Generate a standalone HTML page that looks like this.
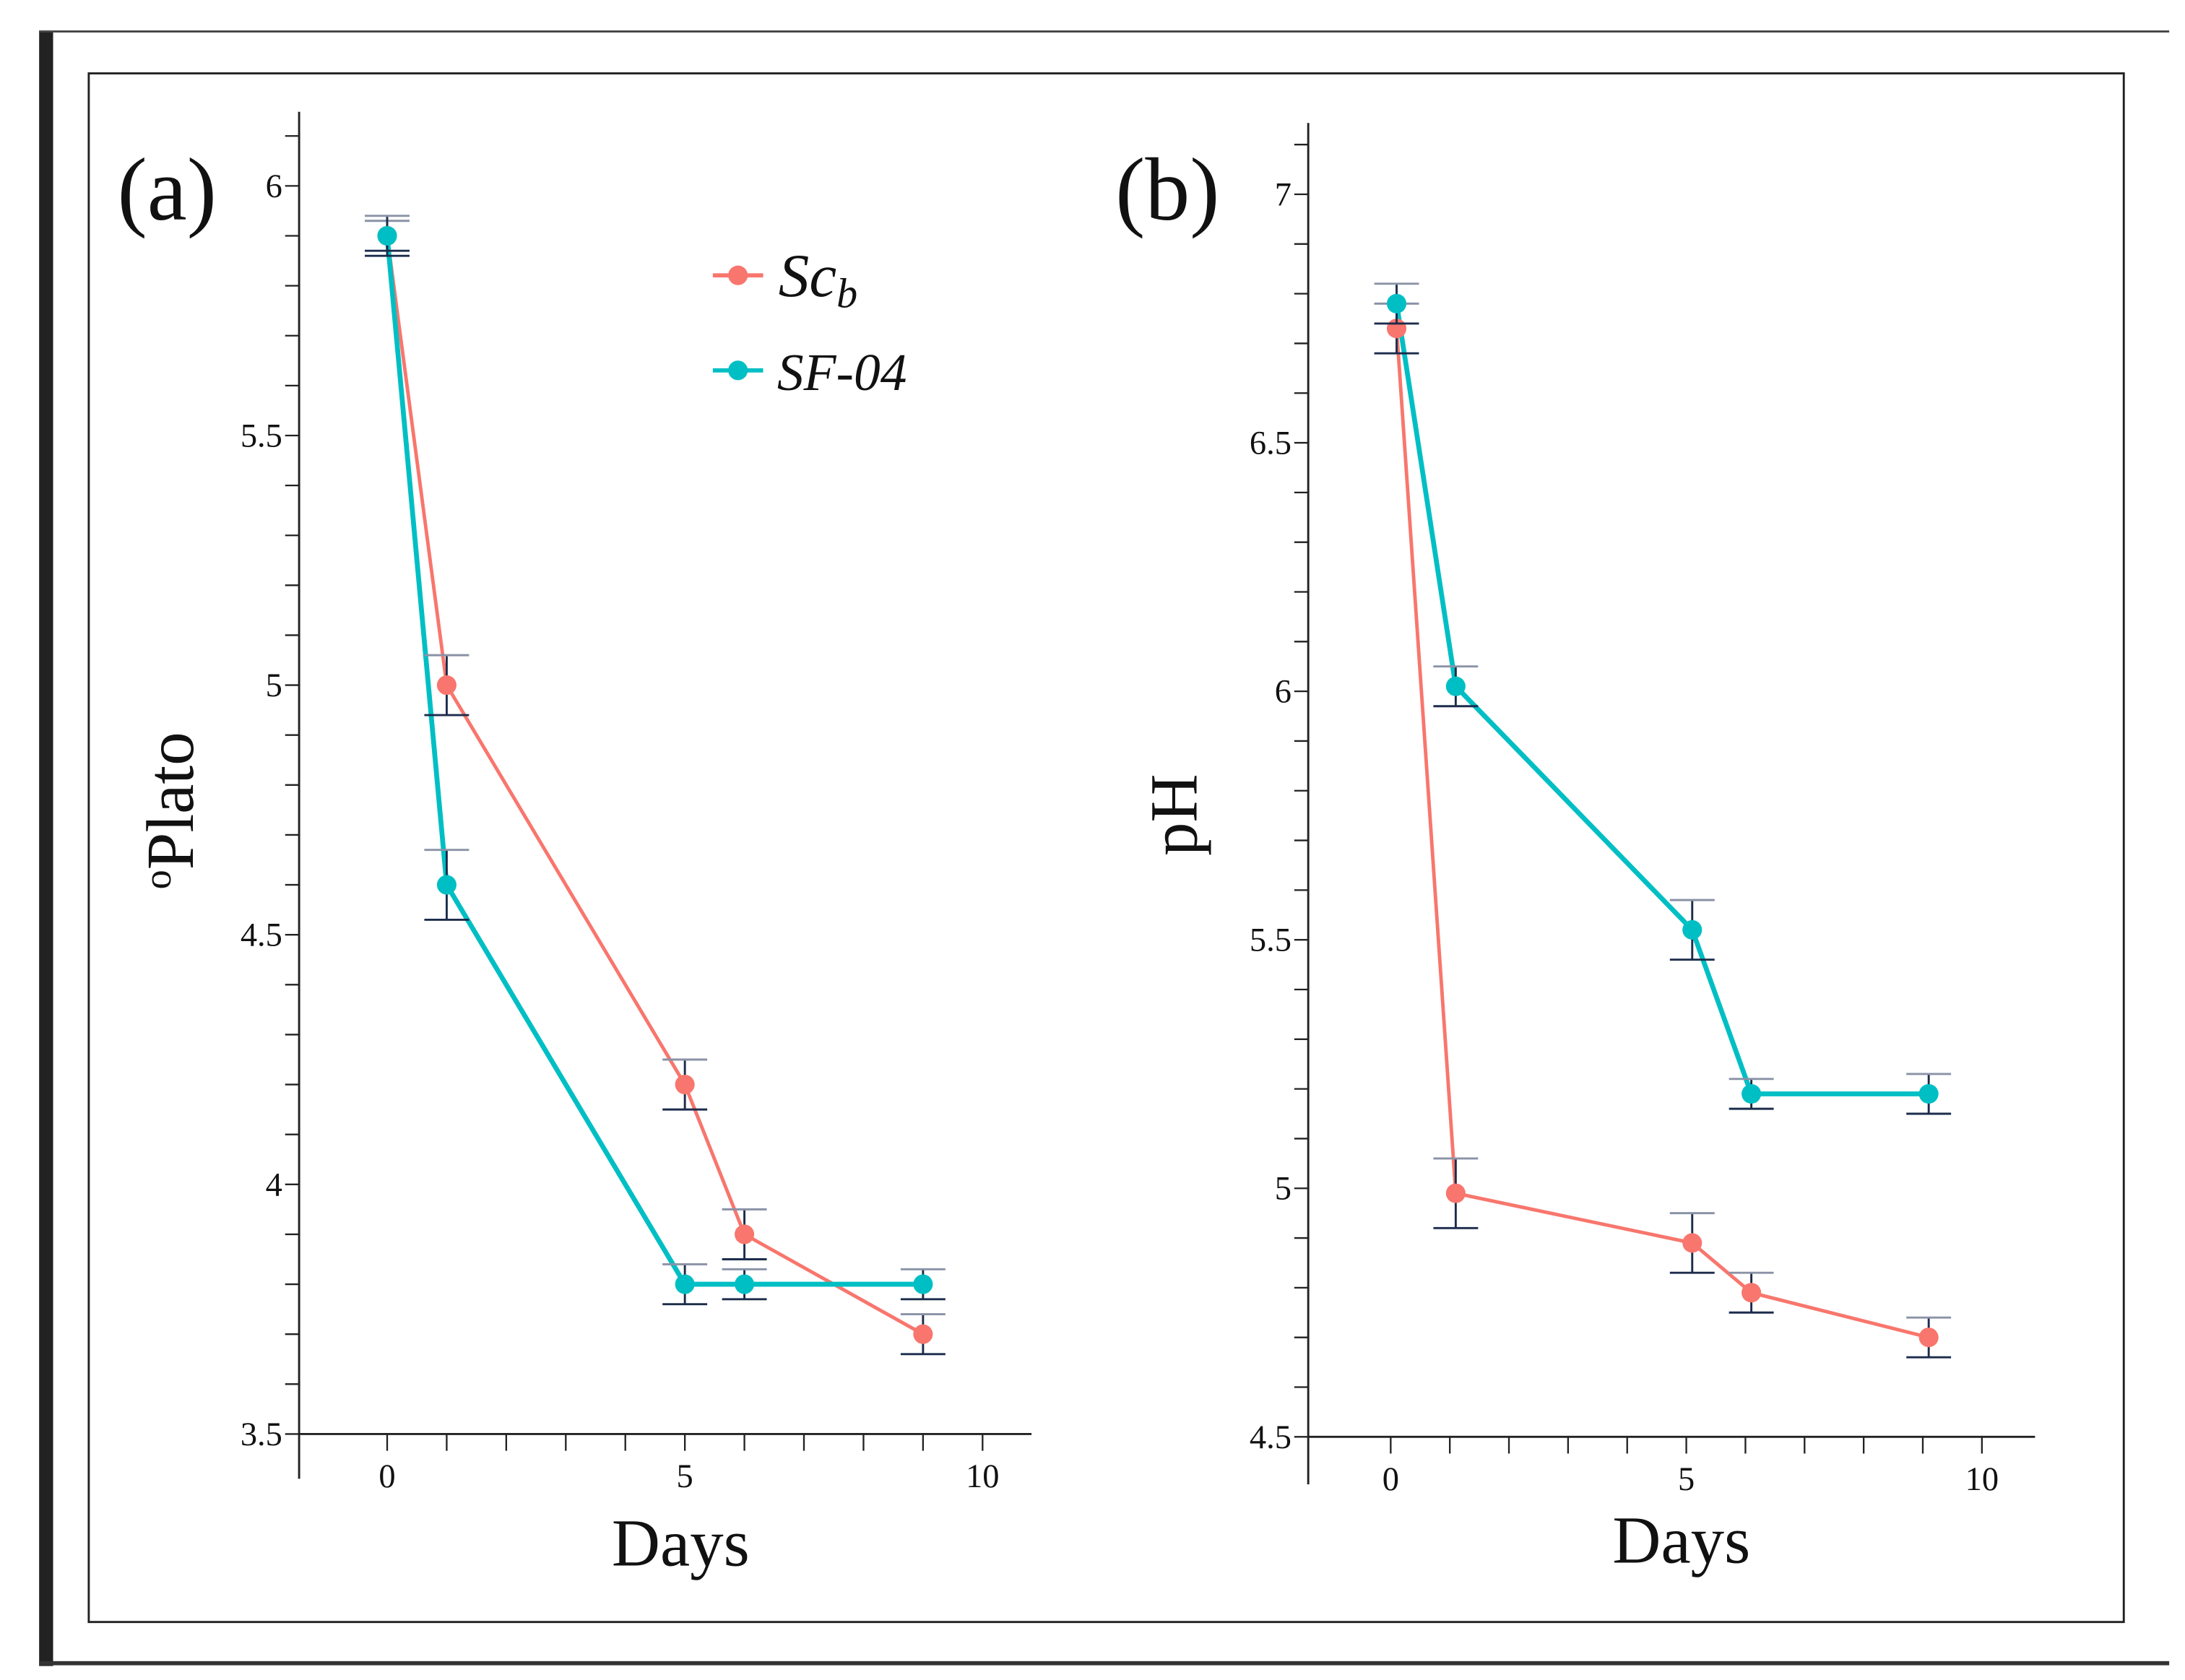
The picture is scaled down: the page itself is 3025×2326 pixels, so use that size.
<!DOCTYPE html>
<html><head><meta charset="utf-8"><style>
html,body{margin:0;padding:0;background:#fff;}
svg{display:block;}
text{font-family:"Liberation Serif",serif;fill:#111;}
</style></head><body>
<svg id="fig" width="3025" height="2326" viewBox="0 0 1563.3 1202" preserveAspectRatio="none" xmlns="http://www.w3.org/2000/svg">
<rect x="0" y="0" width="1563.3" height="1202" fill="#fff"/>
<rect x="28" y="22" width="10" height="1170" fill="#222"/>
<line x1="28" y1="22.5" x2="1552" y2="22.5" stroke="#444" stroke-width="1.5"/>
<line x1="28" y1="1190" x2="1552" y2="1190" stroke="#333" stroke-width="3"/>
<rect x="63.5" y="52.5" width="1456" height="1108" fill="none" stroke="#222" stroke-width="1.5"/>
<g id="pa"></g>
<g id="pb"></g>
<text x="84" y="157" font-size="64">(a)</text>
<text x="798" y="157" font-size="64">(b)</text>
<text transform="translate(138,580) rotate(-90)" text-anchor="middle" font-size="48"><tspan font-size="28" dy="-16">o</tspan><tspan dy="16">Plato</tspan></text>
<text transform="translate(856,583) rotate(-90)" text-anchor="middle" font-size="48">pH</text>
<text x="487" y="1120" text-anchor="middle" font-size="48">Days</text>
<text x="1203" y="1118" text-anchor="middle" font-size="48">Days</text>
<g>
<g>
<line x1="510" y1="197" x2="546" y2="197" stroke="#F8766D" stroke-width="3"/>
<circle cx="528" cy="197" r="7" fill="#F8766D"/>
<text x="557" y="212" font-size="44" font-style="italic">Sc<tspan font-size="30" dy="8">b</tspan></text>
</g>
<g>
<line x1="510" y1="265" x2="546" y2="265" stroke="#00BFC4" stroke-width="3"/>
<circle cx="528" cy="265" r="7" fill="#00BFC4"/>
<text x="556" y="279" font-size="38" font-style="italic">SF-04</text>
</g>
</g>
</svg>
<script>
const NS="http://www.w3.org/2000/svg";
// Panel (a) data
const daysA=[0,1,5,6,9];
const scbA=[5.9,5.0,4.2,3.9,3.7];
const scbAErr=[0.03,0.06,0.05,0.05,0.04];
const sfA=[5.9,4.6,3.8,3.8,3.8];
const sfAErr=[0.04,0.07,0.04,0.03,0.03];
const yTicksA=[3.5,4,4.5,5,5.5,6];
const yTickLabelsA=["3.5","4","4.5","5","5.5","6"];
// Panel (b) data
const daysB=[0.1,1.1,5.1,6.1,9.1];
const scbB=[6.73,4.99,4.89,4.79,4.70];
const scbBErr=[0.05,0.07,0.06,0.04,0.04];
const sfB=[6.78,6.01,5.52,5.19,5.19];
const sfBErr=[0.04,0.04,0.06,0.03,0.04];
const yTicksB=[4.5,5,5.5,6,6.5,7];
const yTickLabelsB=["4.5","5","5.5","6","6.5","7"];
const xTickLabels=["0","5","10"];
const xTickVals=[0,5,10];

function mk(tag,attrs,parent){const e=document.createElementNS(NS,tag);for(const k in attrs)e.setAttribute(k,attrs[k]);parent.appendChild(e);return e;}

function panel(g,cfg){
  const sx=d=>cfg.x0+(d)*cfg.dx;
  const sy=v=>cfg.yBase-(v-cfg.vBase)*cfg.dy;
  // axes
  const ya=mk('line',{x1:cfg.axX,y1:cfg.yTop,x2:cfg.axX,y2:cfg.yBot,stroke:'#222','stroke-width':1.5},g);
  
  
  const xa=mk('line',{x1:cfg.axX,y1:cfg.yBase,x2:cfg.xEnd,y2:cfg.yBase,stroke:'#222','stroke-width':1.5},g);
  
  
  // minor y ticks every 0.1
  for(let i=0;i<=27;i++){
    const v=cfg.vBase+i*0.1; if(v>cfg.vMax+0.001)break;
    const t=mk('line',{x1:cfg.axX-10,y1:sy(v),x2:cfg.axX,y2:sy(v),stroke:'#222','stroke-width':1.2},g);
    
    
  }
  cfg.yTicks.forEach((v,i)=>{
    const t=mk('text',{x:cfg.axX-12,y:sy(v)+8,'text-anchor':'end','font-size':24},g);
    t.textContent=cfg.yLabels[i];
    
    
  });
  for(let d=0;d<=10;d++){
    const t=mk('line',{x1:sx(d),y1:cfg.yBase,x2:sx(d),y2:cfg.yBase+12,stroke:'#222','stroke-width':1.2},g);
    
    
  }
  xTickVals.forEach((d,i)=>{
    const t=mk('text',{x:sx(d),y:cfg.yBase+38,'text-anchor':'middle','font-size':24},g);
    t.textContent=xTickLabels[i];
    
    
  });
  const series=[[cfg.scb,cfg.scbErr,'#F8766D',2.5,'scb'],[cfg.sf,cfg.sfErr,'#00BFC4',3.5,'sf04']];
  series.forEach(([vals,errs,col,w,nm])=>{
    const pts=vals.map((v,i)=>sx(cfg.days[i])+','+sy(v)).join(' ');
    const pl=mk('polyline',{points:pts,fill:'none',stroke:col,'stroke-width':w},g);
    
    
  });
  series.forEach(([vals,errs,col,w,nm])=>{
    vals.forEach((v,i)=>{
      const x=sx(cfg.days[i]),y1=sy(v+errs[i]),y2=sy(v-errs[i]);
      const eb=mk('g',{},g);
      
      
      mk('line',{x1:x,y1:y1,x2:x,y2:y2,stroke:'#1c2c4c','stroke-width':1.5},eb);
      mk('line',{x1:x-16,y1:y1,x2:x+16,y2:y1,stroke:'#8a92a6','stroke-width':1.5},eb);
      mk('line',{x1:x-16,y1:y2,x2:x+16,y2:y2,stroke:'#1c2c4c','stroke-width':1.5},eb);
      const c=mk('circle',{cx:x,cy:sy(v),r:7,fill:col},g);
      
      
    });
  });
}
panel(document.getElementById('pa'),{x0:277,dx:42.6,yBase:1026,vBase:3.5,vMax:6.1,dy:357.2,axX:214,yTop:80,yBot:1058,xEnd:738,
  days:daysA,scb:scbA,scbErr:scbAErr,sf:sfA,sfErr:sfAErr,yTicks:yTicksA,yLabels:yTickLabelsA});
panel(document.getElementById('pb'),{x0:995,dx:42.3,yBase:1028,vBase:4.5,vMax:7.1,dy:355.6,axX:936,yTop:88,yBot:1062,xEnd:1456,
  days:daysB,scb:scbB,scbErr:scbBErr,sf:sfB,sfErr:sfBErr,yTicks:yTicksB,yLabels:yTickLabelsB});
</script>
</body></html>
